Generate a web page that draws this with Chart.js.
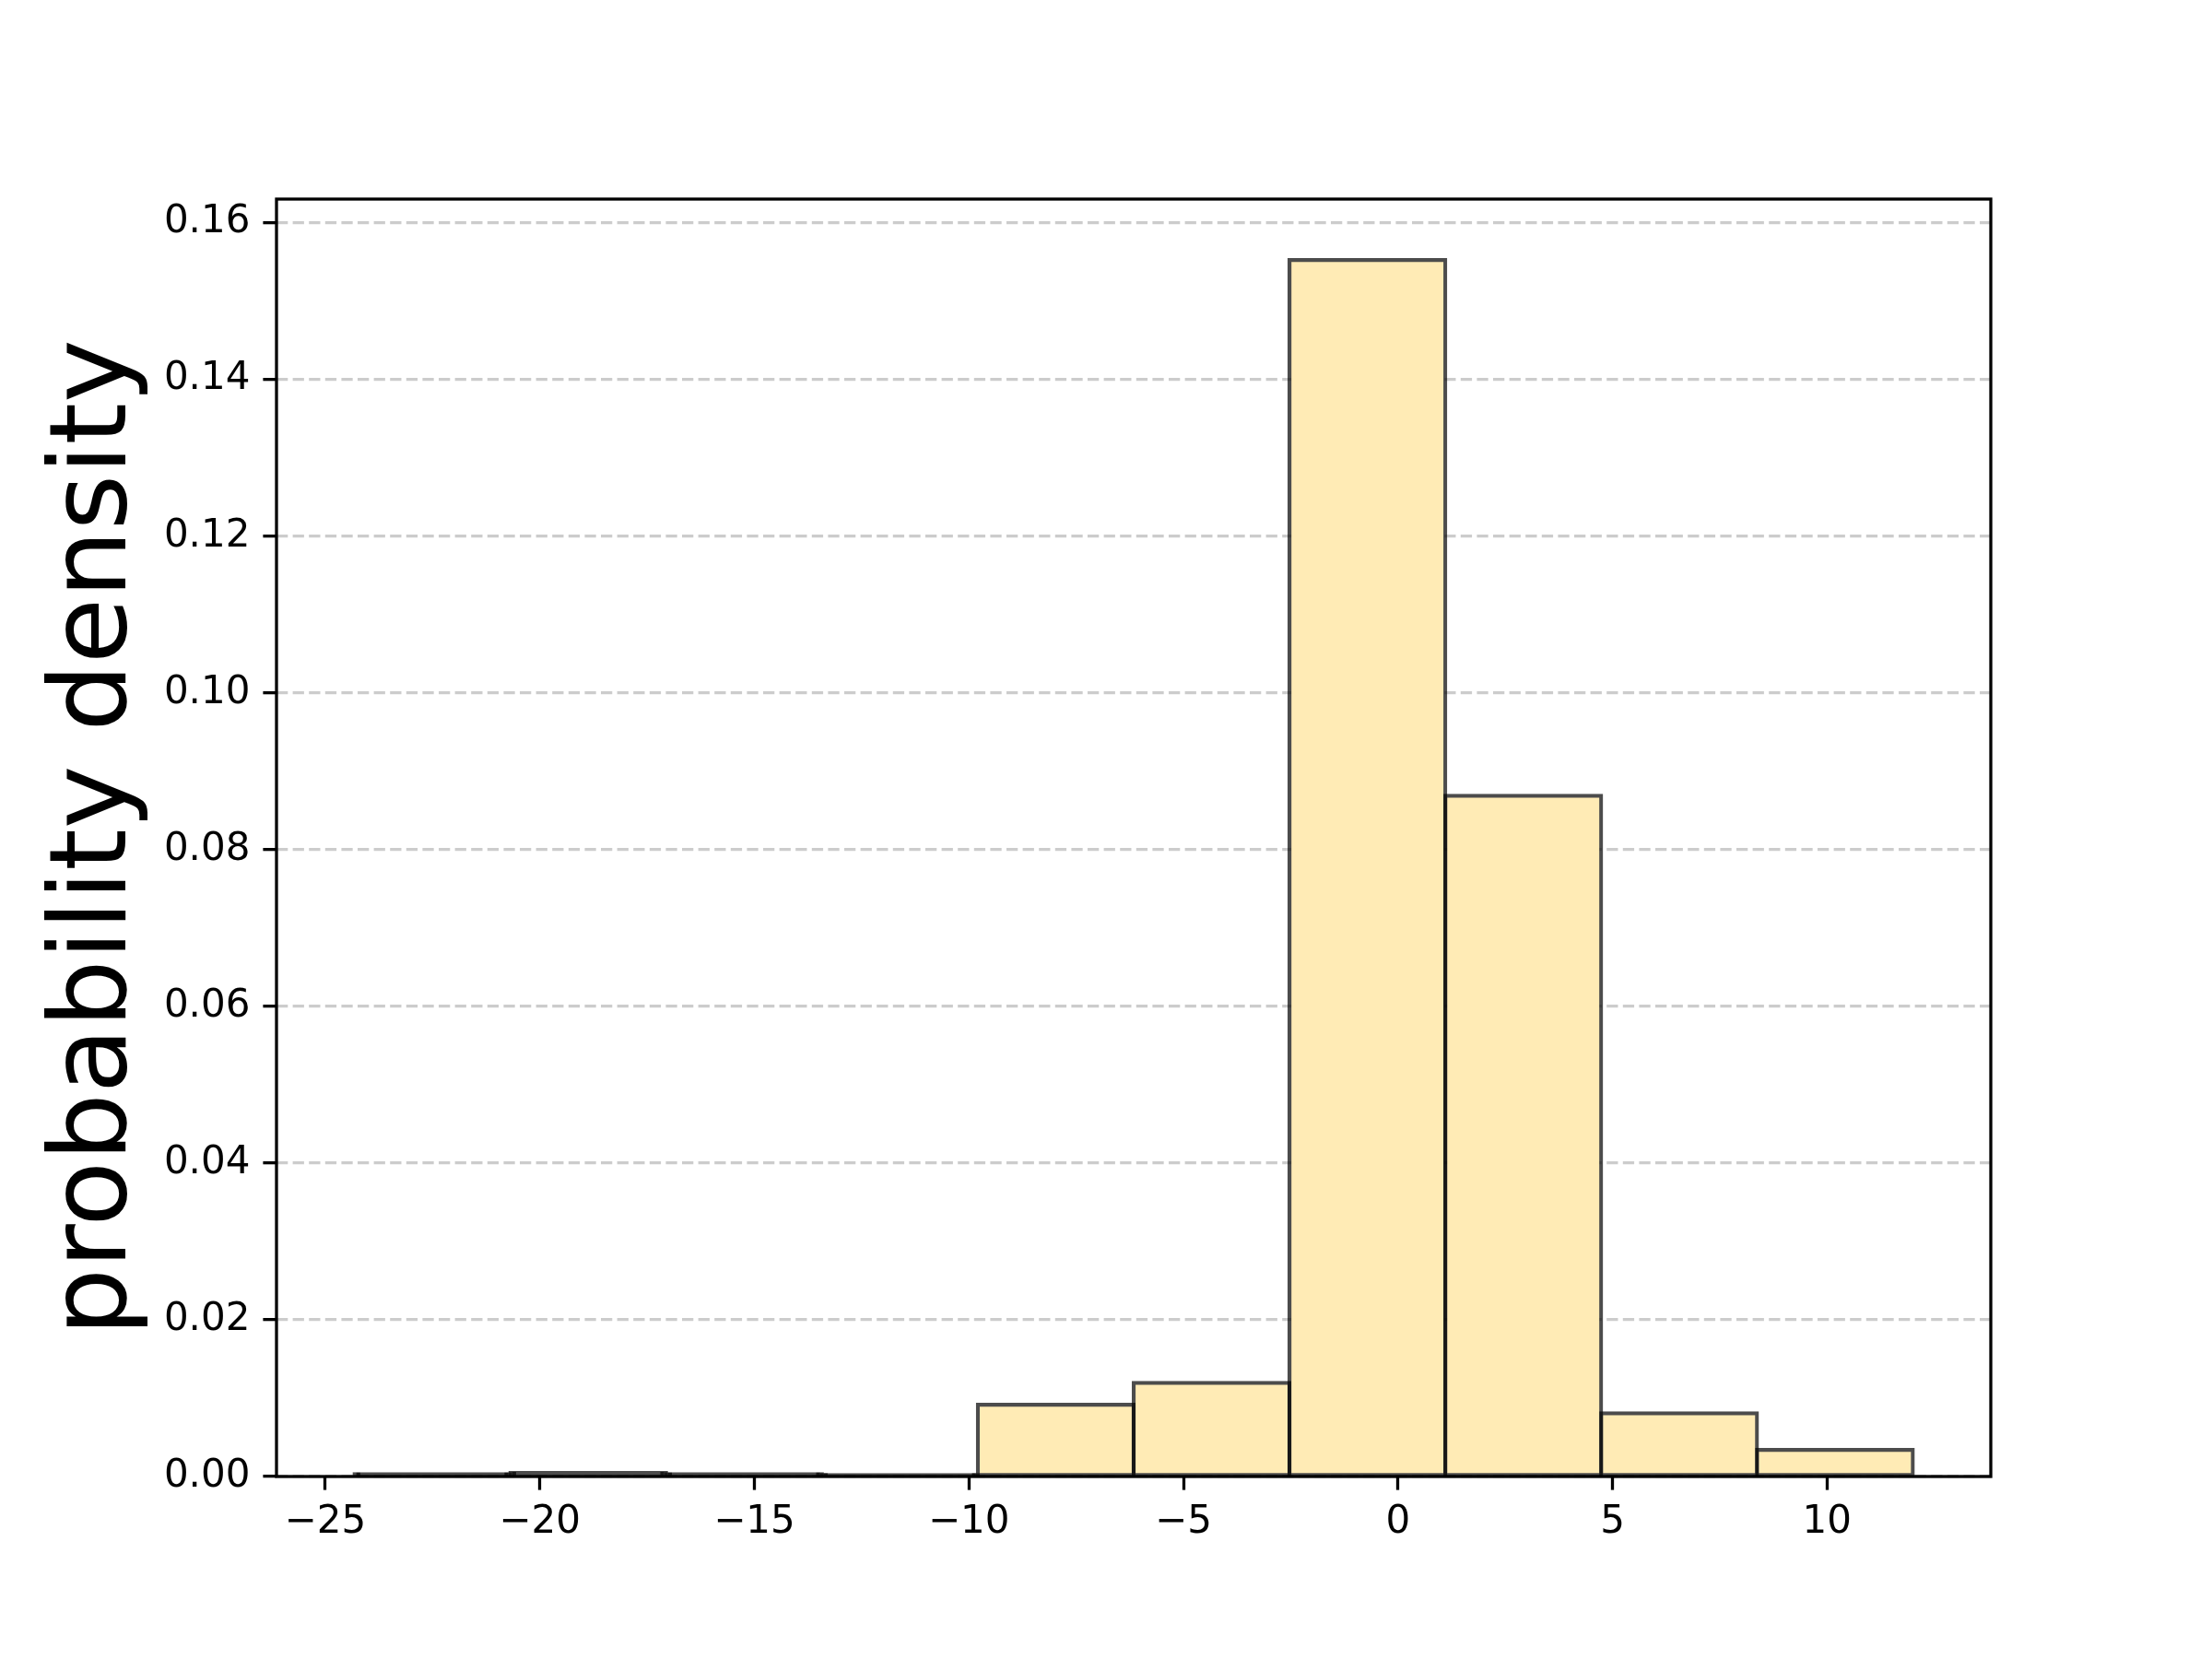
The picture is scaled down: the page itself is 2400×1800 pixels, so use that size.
<!DOCTYPE html>
<html lang="en">
  <head>
    <meta charset="UTF-8" />
    <title>probability density</title>
    <script src="https://cdn.jsdelivr.net/npm/chart.js@4/dist/chart.umd.min.js"></script>
    <style>
      html, body { margin: 0; padding: 0; background: #fff; }
      #wrap { width: 2400px; height: 1800px; }
    </style>
  </head>
  <body>
    <div id="wrap"><canvas id="hist-chart" width="2400" height="1800"></canvas></div>
    <script>
      // histogram
      const binEdges = [-24.32, -20.688, -17.056, -13.424, -9.792, -6.16, -2.528, 1.104, 4.736, 8.368, 12.0];
      const density = [0.0003, 0.00047, 0.0003, 0.0002, 0.00917, 0.01195, 0.15522, 0.08687, 0.00807, 0.0034];
      const xTicks = [-25, -20, -15, -10, -5, 0, 5, 10];
      const yTicks = [0, 0.02, 0.04, 0.06, 0.08, 0.1, 0.12, 0.14, 0.16];
      const xMin = -26.136, xMax = 13.816;
      const yMax = 0.163;

      const points = density.map((d, i) => ({ x: (binEdges[i] + binEdges[i + 1]) / 2, y: d }));

      const frame = {
        id: "frame",
        afterDraw(chart) {
          const a = chart.chartArea;
          const c = chart.ctx;
          c.save();
          c.strokeStyle = "#000";
          c.lineWidth = 3.3;
          c.strokeRect(a.left, a.top, a.right - a.left, a.bottom - a.top);
          c.restore();
        },
      };

      const tickFont = { family: "DejaVu Sans", size: 42 };
      const edgeColor = "rgba(0, 0, 0, 0.7)";

      Chart.defaults.font.family = "DejaVu Sans";
      const ctx = document.getElementById("hist-chart").getContext("2d");
      new Chart(ctx, {
        type: "bar",
        data: {
          datasets: [
            {
              data: points,
              // very thin bins are all edge, like the original
              backgroundColor: (c) => (c.raw && c.raw.y < 0.001 ? edgeColor : "rgb(255, 235, 181)"),
              borderColor: edgeColor,
              borderWidth: 4.2,
              borderSkipped: false,
              inflateAmount: 2.1,
              barPercentage: 1,
              categoryPercentage: 1,
            },
          ],
        },
        options: {
          responsive: false,
          animation: false,
          layout: { padding: { top: 216, right: 240, bottom: 0, left: 0 } },
          plugins: { legend: { display: false }, tooltip: { enabled: false } },
          scales: {
            x: {
              type: "linear",
              min: xMin,
              max: xMax,
              offset: false,
              afterBuildTicks: (axis) => { axis.ticks = xTicks.map((v) => ({ value: v })); },
              afterFit: (axis) => { axis.height = 198; },
              grid: { offset: false, drawOnChartArea: false, tickLength: 14.6, tickColor: "#000", tickWidth: 3.3 },
              border: { display: false },
              ticks: {
                color: "#000",
                font: tickFont,
                padding: 10,
                maxRotation: 0,
                callback: (v) => (v < 0 ? "\u2212" + Math.abs(v) : String(v)),
              },
            },
            y: {
              type: "linear",
              min: 0,
              max: yMax,
              z: 1,
              afterBuildTicks: (axis) => { axis.ticks = yTicks.map((v) => ({ value: v })); },
              afterFit: (axis) => { axis.width = 300; },
              grid: { color: "rgba(0, 0, 0, 0.2)", lineWidth: 3.3, tickLength: 14.6, tickColor: "#000", tickWidth: 3.3, tickBorderDash: [] },
              border: { display: false, dash: [12.3, 5.3] },
              ticks: {
                color: "#000",
                font: tickFont,
                padding: 14,
                callback: (v) => v.toFixed(2),
              },
              title: {
                display: true,
                text: "probability density",
                color: "#000",
                font: { family: "DejaVu Sans", size: 116, lineHeight: 1.2 },
                padding: { top: 36, bottom: 0 },
              },
            },
          },
        },
        plugins: [frame],
      });
    </script>
  </body>
</html>
